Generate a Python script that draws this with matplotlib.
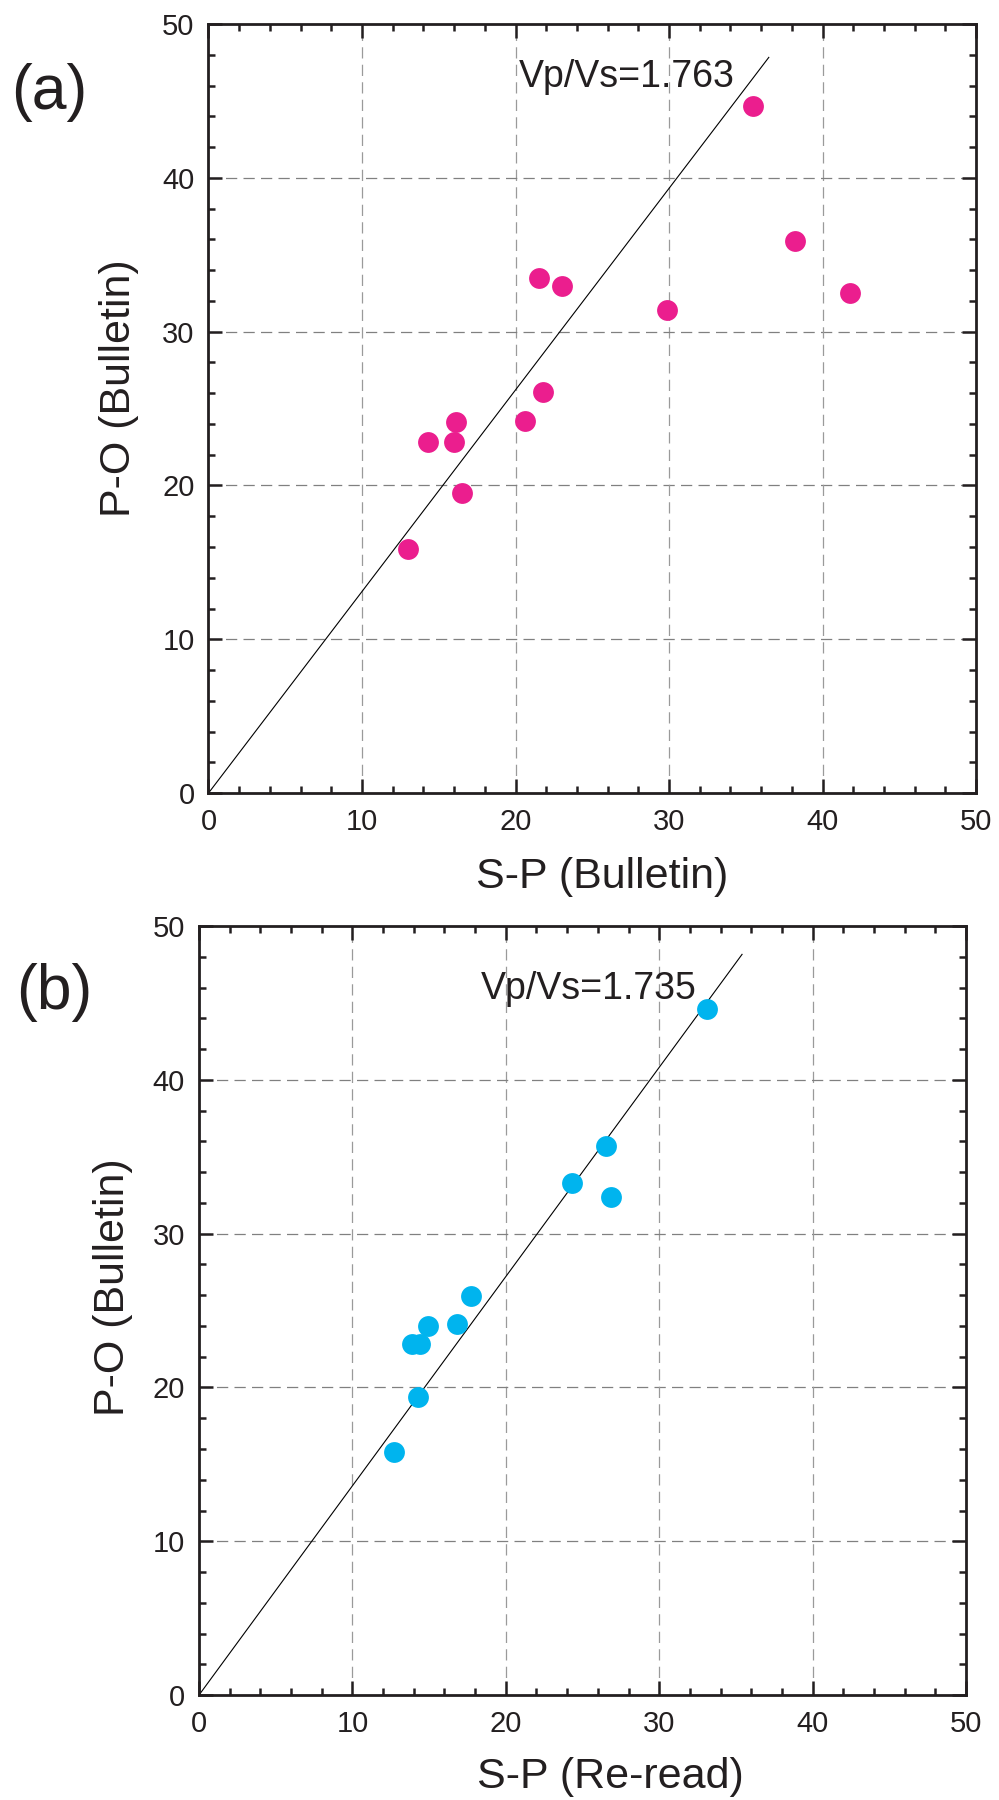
import matplotlib
matplotlib.use("Agg")
import matplotlib.pyplot as plt
from matplotlib.ticker import MultipleLocator

plt.rcParams['font.family'] = ['Liberation Sans', 'DejaVu Sans']

# ----- Data -----

# (a) S-P from bulletin vs P-O from bulletin
sp_bulletin = [13.0, 14.3, 16.0, 16.1, 16.5, 20.6, 21.8, 21.5, 23.0, 29.9, 35.5, 38.2, 41.8]
po_bulletin_a = [15.9, 22.8, 22.8, 24.1, 19.5, 24.2, 26.1, 33.5, 33.0, 31.4, 44.7, 35.9, 32.5]

# (b) S-P re-read vs P-O from bulletin
sp_reread = [12.7, 14.3, 13.9, 14.4, 14.9, 16.8, 17.7, 24.3, 26.5, 26.85, 33.1]
po_bulletin_b = [15.8, 19.4, 22.8, 22.8, 24.0, 24.1, 25.95, 33.3, 35.7, 32.4, 44.6]

vpvs_a = 1.763
vpvs_b = 1.735
line_end_a = 36.5
line_end_b = 35.4

DARK = "#231F20"
MAGENTA = "#EB1E8E"
CYAN = "#00B4EE"

# ----- Helpers -----

def style_axes(ax):
    ax.set_xlim(0, 50)
    ax.set_ylim(0, 50)
    ax.xaxis.set_major_locator(MultipleLocator(10))
    ax.yaxis.set_major_locator(MultipleLocator(10))
    ax.xaxis.set_minor_locator(MultipleLocator(2))
    ax.yaxis.set_minor_locator(MultipleLocator(2))
    for s in ax.spines.values():
        s.set_linewidth(2.0)
        s.set_color(DARK)
        s.set_zorder(5)
    ax.tick_params(which="both", direction="in", top=True, right=True, color=DARK, width=1.8)
    ax.tick_params(which="major", length=10, labelsize=21, labelcolor=DARK)
    ax.tick_params(axis="x", which="major", pad=11)
    ax.tick_params(axis="y", which="major", pad=10)
    ax.tick_params(which="minor", length=5)
    for v in [10, 20, 30, 40]:
        ax.axvline(v, color="#9a9a9a", lw=0.9, dashes=(9, 5), zorder=0)
        ax.axhline(v, color="#808080", lw=0.9, dashes=(9, 5), zorder=0)


def draw_panel(ax, xs, ys, color, vpvs, x_end, note_xy, xlabel, ylabel, xlab_pos, ylab_pos, tag, tag_xy):
    style_axes(ax)
    slope = 1.0 / (vpvs - 1.0)
    ax.plot([0, x_end], [0, slope * x_end], color="black", lw=0.8, zorder=2)
    ax.plot(xs, ys, "o", color=color, markersize=15, markeredgewidth=0, zorder=3)
    ax.text(note_xy[0], note_xy[1], f"Vp/Vs={vpvs}", fontsize=27, color=DARK, va="baseline", ha="left")
    ax.text(xlab_pos[0], xlab_pos[1], xlabel, transform=ax.transAxes, fontsize=31,
            color=DARK, ha="center", va="baseline")
    ax.text(ylab_pos[0], ylab_pos[1], ylabel, transform=ax.transAxes, fontsize=31,
            color=DARK, ha="center", va="center", rotation=90)
    ax.figure.text(tag_xy[0], tag_xy[1], tag, fontsize=45, color=DARK, ha="center", va="center")

# ----- Figure -----

fig = plt.figure(figsize=(9.99, 18.0), dpi=100)
ax_a = fig.add_axes([0.2087, 0.5594, 0.7683, 0.4272])
ax_b = fig.add_axes([0.1992, 0.0583, 0.7678, 0.4272])

draw_panel(ax_a, sp_bulletin, po_bulletin_a, MAGENTA, vpvs_a, line_end_a, (20.2, 45.9),
           "S-P (Bulletin)", "P-O (Bulletin)", (0.513, -0.1235), (-0.117, 0.527),
           "(a)", (49 / 999, 1 - 92 / 1800))
draw_panel(ax_b, sp_reread, po_bulletin_b, CYAN, vpvs_b, line_end_b, (18.4, 45.25),
           "S-P (Re-read)", "P-O (Bulletin)", (0.5365, -0.121), (-0.1115, 0.5306),
           "(b)", (54 / 999, 1 - 993 / 1800))

fig.savefig("out.png", dpi=100)
